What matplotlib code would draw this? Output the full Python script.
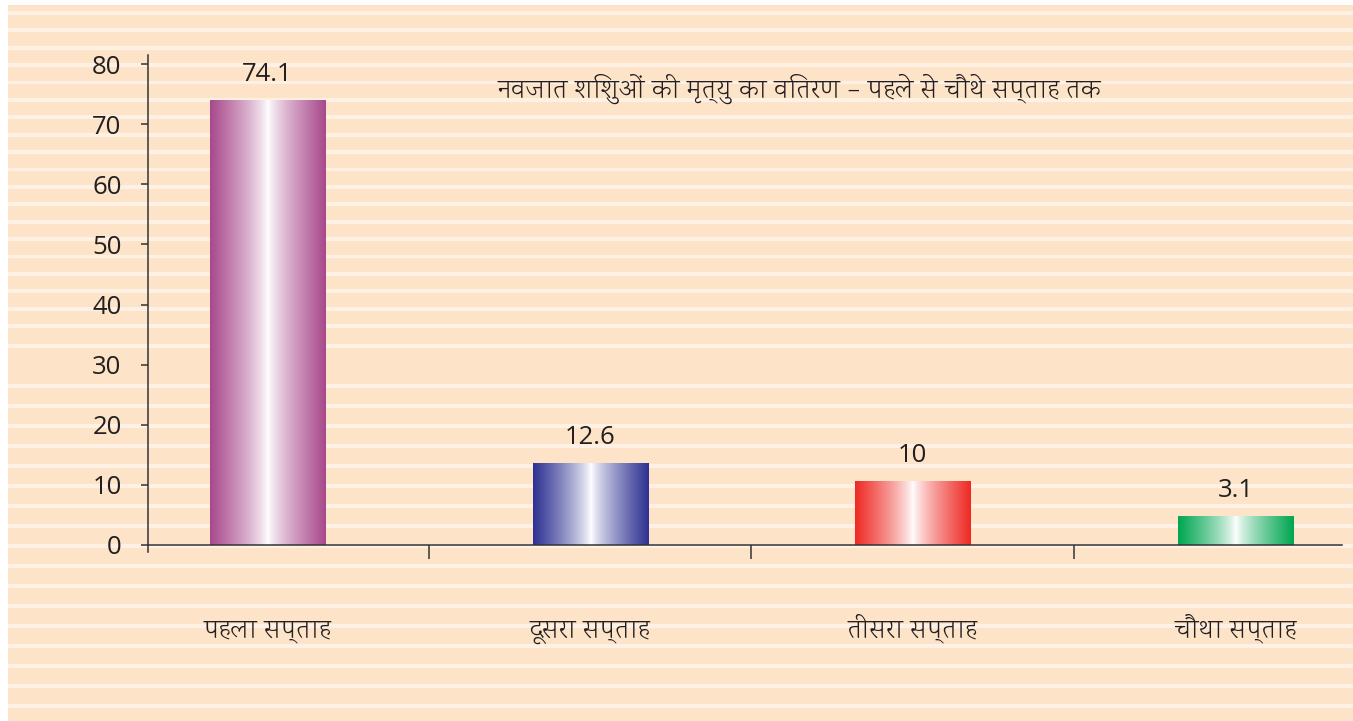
import numpy as np
import matplotlib
matplotlib.use("Agg")
import matplotlib.pyplot as plt
from matplotlib.colors import to_rgb

# data
categories = ["पहला सप्ताह", "दूसरा सप्ताह", "तीसरा सप्ताह", "चौथा सप्ताह"]
bar_heights = [74.0, 13.6, 10.5, 4.8]        # heights as drawn
value_labels = ["74.1", "12.6", "10", "3.1"]  # numbers printed above the bars
bar_colors = ["#A8498C", "#2E3192", "#EE2A24", "#00A651"]
yticks = [0, 10, 20, 30, 40, 50, 60, 70, 80]
title = "नवजात शिशुओं की मृत्यु का वितरण – पहले से चौथे सप्ताह तक"

plt.rcParams["font.family"] = ["Open Sans", "DejaVu Sans"]
hindi = ["Karma", "Noto Sans Devanagari", "DejaVu Sans"]

text_color = "#231F20"
peach = "#FDE4C9"
stripe = "#FEF1E3"

W, H = 1353, 721
fig = plt.figure(figsize=(W / 100, H / 100), dpi=100)
fig.patch.set_facecolor("white")

# striped peach background in pixel coordinates
bg = fig.add_axes([0, 0, 1, 1], zorder=-10)
bg.set_xlim(0, W)
bg.set_ylim(H, 0)
bg.axis("off")
bg.add_patch(plt.Rectangle((8, 5), W - 8, H - 5, color=peach, lw=0))
stripe_rows = list(np.arange(11, 330, 17.4)) + [344] + list(np.arange(384, 712, 20))
for y in stripe_rows:
    bg.add_patch(plt.Rectangle((8, y), W - 8, 3.8, color=stripe, lw=0))

ax = fig.add_axes([0.1094, 0.2341, 0.8825, 0.6896])
ax.set_facecolor("none")
x = np.arange(len(categories))
bars = ax.bar(x, bar_heights, width=0.357, color="none", zorder=2)

# horizontal gradient: colour at the edges, white in the middle
t = np.abs(np.linspace(-1, 1, 256)) ** 0.8
for bar, col in zip(bars, bar_colors):
    c = np.array(to_rgb(col))
    grad = 1 - t[:, None] * (1 - c[None, :])
    x0, y0 = bar.get_x(), bar.get_y()
    ax.imshow(grad[None, :, :], extent=(x0, x0 + bar.get_width(), y0, y0 + bar.get_height()),
              aspect="auto", zorder=2, interpolation="bilinear")

for bar, lab in zip(bars, value_labels):
    ax.annotate(lab, (bar.get_x() + bar.get_width() / 2, bar.get_height()),
                xytext=(0, 14), textcoords="offset points", ha="center", va="baseline",
                fontsize=18.5, color=text_color)

ax.set_xlim(-0.37, 3.33)
ax.set_ylim(-1.2, 81.5)

for s in ["top", "right"]:
    ax.spines[s].set_visible(False)
ax.spines["bottom"].set_position(("data", 0))
for s in ["left", "bottom"]:
    ax.spines[s].set_linewidth(1.1)
    ax.spines[s].set_color("#333333")

ax.set_yticks(yticks)
ax.tick_params(axis="y", length=5, width=1.1, color="#333333", pad=14,
               labelsize=18.5, labelcolor=text_color)
ax.set_xticks(x, categories)
ax.set_xticks(x[:-1] + 0.5, minor=True)
ax.tick_params(axis="x", which="major", length=0, pad=66, labelcolor=text_color)
ax.tick_params(axis="x", which="minor", length=10, width=1.1, color="#333333", direction="out")
for lab in ax.get_xticklabels():
    lab.set_fontfamily(hindi)
    lab.set_fontsize(19.5)
    lab.set_fontweight("light")
    lab.set_va("baseline")

ax.text(0.2925, 0.932, title, transform=ax.transAxes, ha="left", va="center",
        fontsize=19.5, family=hindi, fontweight="light", color=text_color)

fig.savefig("out.png", dpi=100, facecolor=fig.get_facecolor())
